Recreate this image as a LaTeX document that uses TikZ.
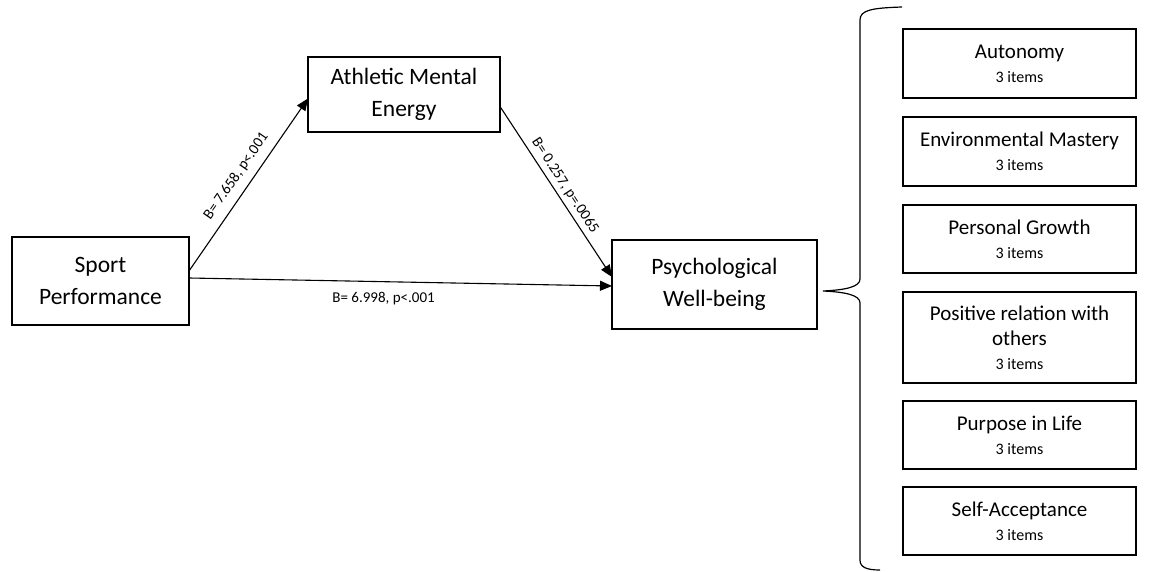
\documentclass[tikz,border=0pt]{standalone}
\usepackage{fontspec}
\setmainfont{Carlito}
\usetikzlibrary{arrows.meta,positioning}
\newcommand{\itm}{\\[-1pt]{\fontsize{16}{19}\selectfont 3 items}}

\begin{document}
\begin{tikzpicture}[x=1pt, y=-1pt,
    varbox/.style={draw, line width=2pt, inner sep=0pt, outer sep=0pt, align=center,
                   font=\fontsize{23.5}{31.5}\selectfont},
    dimbox/.style={draw, line width=1.8pt, inner sep=0pt, outer sep=0pt, align=center,
                   minimum width=233pt, minimum height=68pt, font=\fontsize{21}{25}\selectfont},
    arr/.style={-{Triangle[length=12pt,width=10pt]}, line width=1.1pt},
    coef/.style={font=\fontsize{15}{18}\selectfont, inner sep=2pt},
  ]
  \useasboundingbox (0,0) rectangle (1151,572);

  % path model
  \node[varbox, minimum width=177pt, minimum height=88pt] (sp) at (100.5,281) {Sport\\Performance};
  \node[varbox, minimum width=192pt, minimum height=75pt] (ame) at (404,94.5) {Athletic Mental\\Energy};
  \node[varbox, minimum width=205pt, minimum height=89pt] (pwb) at (714.5,284.5) {Psychological\\Well-being};

  \draw[arr] ([yshift=10pt]sp.east) -- ([yshift=-4pt]ame.west)
    node[coef, sloped, pos=0.5, above=6pt] {B= 7.658, p<.001};
  \draw[arr] ([yshift=-12pt]ame.east) -- ([yshift=7.5pt]pwb.west)
    node[coef, sloped, pos=0.5, above=2pt] {B= 0.257, p=.0065};
  \draw[arr] ([yshift=3pt]sp.east) -- ([yshift=-1.5pt]pwb.west)
    node[coef, pos=0.46, below=8pt] {B= 6.998, p<.001};

  % dimensions of well-being
  \node[dimbox, minimum height=69pt] (auto) at (1019.5,63.5) {Autonomy\itm};
  \node[dimbox, minimum height=69pt, below=19pt of auto] (env) {Environmental Mastery\itm};
  \node[dimbox, below=19pt of env] (grow) {Personal Growth\itm};
  \node[dimbox, minimum height=91pt, below=19pt of grow] (rel) {Positive relation with\\others\itm};
  \node[dimbox, below=18pt of rel] (purp) {Purpose in Life\itm};
  \node[dimbox, below=18pt of purp] (self) {Self-Acceptance\itm};

  % brace
  \draw[line width=1.2pt] (902,7) .. controls (872,8) and (860,10) .. (860,20) -- (860,279)
    .. controls (860,287) and (845,290) .. (823,291)
    .. controls (845,292) and (860,295) .. (860,303) -- (860,560)
    .. controls (860,567) and (866,570) .. (880,570);
\end{tikzpicture}
\end{document}
